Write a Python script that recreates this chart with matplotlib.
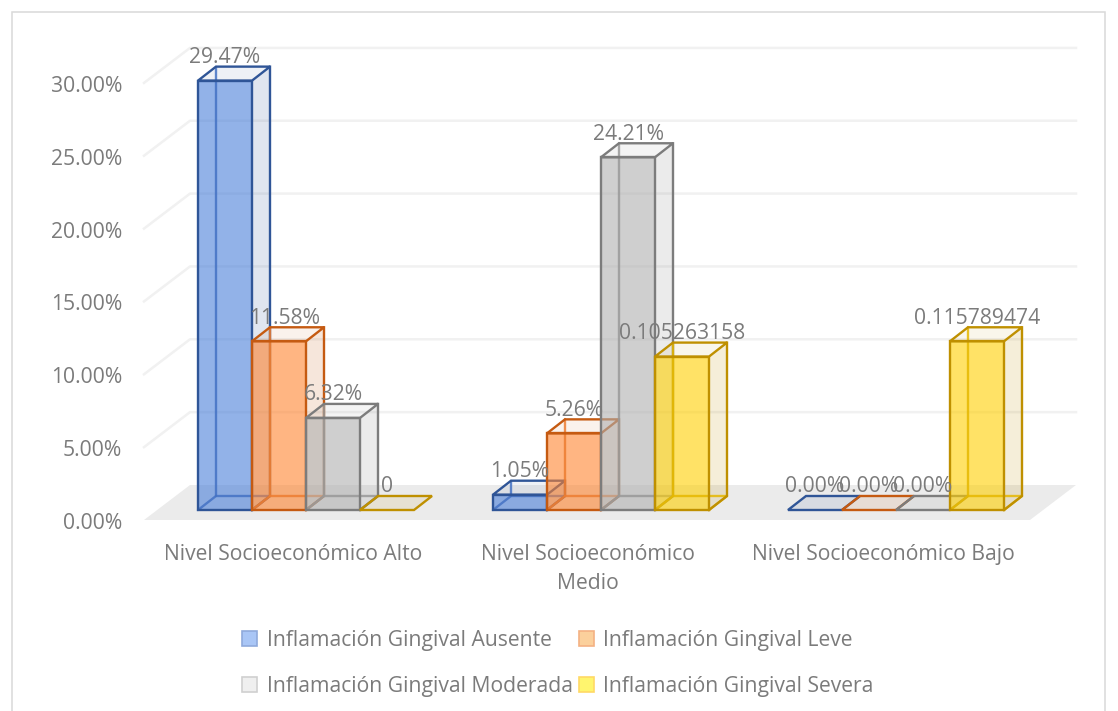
import matplotlib
matplotlib.use('Agg')
import matplotlib.pyplot as plt
from matplotlib.patches import Polygon, Patch, Rectangle

categories = ['Nivel Socioeconómico Alto', 'Nivel Socioeconómico\nMedio', 'Nivel Socioeconómico Bajo']
series_names = ['Inflamación Gingival Ausente', 'Inflamación Gingival Leve',
                'Inflamación Gingival Moderada', 'Inflamación Gingival Severa']
ausente = [0.2947, 0.0105, 0.0]
leve = [0.1158, 0.0526, 0.0]
moderada = [0.0632, 0.2421, 0.0]
severa = [0.0, 0.1053, 0.1158]
ausente_labels = ['29.47%', '1.05%', '0.00%']
leve_labels = ['11.58%', '5.26%', '0.00%']
moderada_labels = ['6.32%', '24.21%', '0.00%']
severa_labels = ['0', '0.105263158', '0.115789474']
y_ticks = [0, 0.05, 0.10, 0.15, 0.20, 0.25, 0.30]

W, H = 1118, 711
PX_X = 295.0    # pixels per category
PX_Y = 1457.0   # pixels per 100%
X0 = 306.0      # pixel of first category
Y0 = 510.0      # pixel of zero on the bars front
TEXT = '#7b7b7b'
plt.rcParams['font.family'] = ['Open Sans', 'DejaVu Sans']
FS = 15.2


def dx(px):
    return px / PX_X


def dy(px):
    return px / PX_Y


def draw_bar(ax, x, w, val, face, edge, inner_col, zo):
    d_x, d_y = dx(18), dy(14)
    l, r = x - w / 2, x + w / 2
    if val > 0:
        # back and side first, the front goes over them
        ax.add_patch(Polygon([(r, 0), (r + d_x, d_y), (r + d_x, val + d_y), (r, val)],
                             fc=edge, alpha=0.15, lw=0, zorder=zo))
        ax.add_patch(Polygon([(l, val), (l + d_x, val + d_y), (r + d_x, val + d_y), (r, val)],
                             fc=edge, alpha=0.08, lw=0, zorder=zo))
        ax.add_patch(Polygon([(l, 0), (r, 0), (r, val), (l, val)], fc=face, alpha=0.6, lw=0, zorder=zo))
        inner = dict(color=inner_col, lw=1.7, alpha=0.85, zorder=zo + 0.1, solid_capstyle='round')
        ax.plot([l + d_x, l + d_x], [d_y, val + d_y], **inner)
        ax.plot([l, l + d_x, r + d_x], [0, d_y, d_y], **inner)
        ax.plot([r + d_x, r], [d_y, 0], **inner)
        ax.add_patch(Polygon([(l, 0), (r, 0), (r, val), (l, val)], fill=False, ec=edge, lw=1.7,
                             zorder=zo + 0.2))
        ax.add_patch(Polygon([(l, val), (l + d_x, val + d_y), (r + d_x, val + d_y), (r, val)],
                             fill=False, ec=edge, lw=1.7, zorder=zo + 0.2))
        ax.plot([r, r + d_x, r + d_x], [0, d_y, val + d_y], color=edge, lw=1.7, zorder=zo + 0.2)
    else:
        ax.add_patch(Polygon([(l, 0), (l + d_x, d_y), (r + d_x, d_y), (r, 0)],
                             fc=edge, alpha=0.1, ec='none', zorder=zo))
        ax.add_patch(Polygon([(l, 0), (l + d_x, d_y), (r + d_x, d_y), (r, 0)],
                             fill=False, ec=edge, lw=1.7, zorder=zo + 0.2))


fig = plt.figure(figsize=(W / 100, H / 100), dpi=100)
ax = fig.add_axes([0, 0, 1, 1])
ax.set_xlim(-X0 / PX_X, (W - X0) / PX_X)
ax.set_ylim(-(H - Y0) / PX_Y, Y0 / PX_Y)
ax.axis('off')

# chart frame
ax.add_patch(Rectangle((dx(12 - X0), dy(Y0 - 760)), dx(1093), dy(748), fill=False, ec='#d9d9d9', lw=1.1, zorder=0))

# floor and wall grid
x_front, x_front2 = dx(144 - X0), dx(1030 - X0)
back = dx(46)
floor_front, floor_back = dy(-10), dy(25)
ax.add_patch(Polygon([(x_front, floor_front), (x_front2, floor_front), (x_front2 + back, floor_back),
                      (x_front + back, floor_back)], fc='#ebebeb', lw=0, zorder=1))
for t in y_ticks:
    if t > 0:
        ax.plot([x_front, x_front + back, x_front2 + back],
                [t + floor_front, t + floor_back, t + floor_back],
                color='#f1f1f1', lw=1.8, zorder=1)
    ax.text(dx(122 - X0), t + floor_front - dy(3.5), '%.2f%%' % (t * 100), ha='right', va='center',
            fontsize=FS, color=TEXT)

series = [ausente, leve, moderada, severa]
labels = [ausente_labels, leve_labels, moderada_labels, severa_labels]
faces = ['#497FD9', '#FF842F', '#AFAFAF', '#FFCF00']
edges = ['#2F5597', '#C55A11', '#7C7C7C', '#BF9000']
inners = ['#4472C4', '#ED7D31', '#999999', '#E6B800']
legend_faces = ['#A9C6F6', '#FBD09C', '#EFEFEF', '#FFF56E']
legend_edges = ['#8FAADC', '#F4B183', '#D0D0D0', '#FFD966']
bar_w = dx(54)

for c in range(len(categories)):
    for s in range(len(series)):
        x = c + (s - 1.5) * bar_w
        draw_bar(ax, x, bar_w, series[s][c], faces[s], edges[s], inners[s], 2 + c + s * 0.25)
        lx = x + dx(6) if labels[s][c] == '11.58%' else x
        ax.text(lx, series[s][c] + dy(23), labels[s][c], ha='center', va='center',
                fontsize=FS, color=TEXT, zorder=10)
    ax.text(c - dx(13), dy(-34), categories[c], ha='center', va='top', fontsize=FS, color=TEXT,
            linespacing=1.5, zorder=10)

handles = []
for i in [0, 2, 1, 3]:
    handles.append(Patch(fc=legend_faces[i], ec=legend_edges[i], lw=1.2, label=series_names[i]))
ax.legend(handles=handles, ncol=2, frameon=False, fontsize=FS, labelcolor=TEXT, loc='center',
          bbox_to_anchor=(558 / W, 1 - 663.5 / H), bbox_transform=fig.transFigure,
          handlelength=0.71, handleheight=0.71, handletextpad=0.47, labelspacing=1.16, columnspacing=0.26)

fig.savefig('out.png', dpi=100)
